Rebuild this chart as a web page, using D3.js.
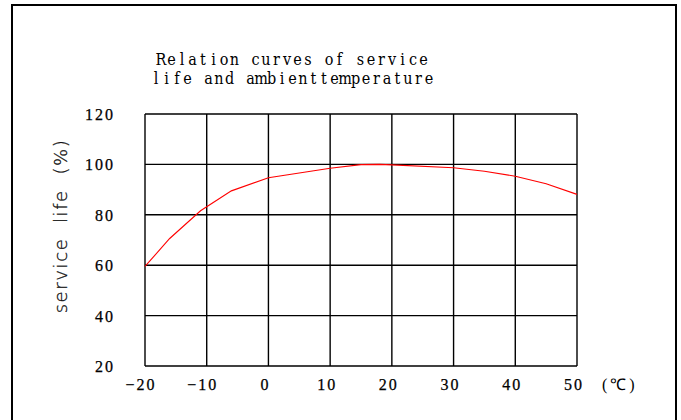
<!DOCTYPE html>
<html>
<head>
<meta charset="utf-8">
<script src="https://cdn.jsdelivr.net/npm/d3@7"></script>
<style>
  html, body { margin: 0; padding: 0; background: #fff; }
  svg { display: block; }
</style>
</head>
<body>
<div id="chart"></div>
<script>
// service life (%) vs ambient temperature (C)
const temps = [-20, -16, -11, -6, 0, 10, 15, 18, 20, 30, 35, 40, 45, 50];
const life  = [59.5, 70.6, 81.6, 89.5, 94.7, 98.5, 99.9, 100, 99.8, 98.7, 97.3, 95.3, 92.3, 88.1];
const xTicks = [-20, -10, 0, 10, 20, 30, 40, 50];
const yTicks = [20, 40, 60, 80, 100, 120];
const titleLines = ['Relation curves of service', 'life and ambienttemperature'];

const width = 681, height = 420;
const margin = {left: 145, right: 104, top: 114, bottom: 54};

const svg = d3.select('#chart').append('svg')
    .attr('width', width)
    .attr('height', height);

// outer frame, open at the bottom
svg.append('path')
    .attr('d', 'M12,420 V5 H676 V420')
    .attr('fill', 'none')
    .attr('stroke', '#000')
    .attr('stroke-width', 2);

const x = d3.scaleLinear()
    .domain([-20, 50])
    .range([margin.left, width - margin.right]);

const y = d3.scaleLinear()
    .domain([20, 120])
    .range([height - margin.bottom, margin.top]);

// grid
svg.append('g')
  .selectAll('line')
  .data(xTicks)
  .enter().append('line')
    .attr('x1', d => x(d)).attr('x2', d => x(d))
    .attr('y1', y(20)).attr('y2', y(120))
    .attr('stroke', '#000')
    .attr('stroke-width', 1.4);

svg.append('g')
  .selectAll('line')
  .data(yTicks)
  .enter().append('line')
    .attr('x1', x(-20)).attr('x2', x(50))
    .attr('y1', d => y(d)).attr('y2', d => y(d))
    .attr('stroke', '#000')
    .attr('stroke-width', 1.4);

// tick labels
function tickStyle(sel) {
  sel.style('font-family', '"Liberation Serif", serif')
     .style('font-size', '16px')
     .style('letter-spacing', '2px')
     .attr('fill', '#000')
     .attr('stroke', '#000')
     .attr('stroke-width', 0.25);
}

svg.append('g')
  .selectAll('text')
  .data(yTicks)
  .enter().append('text')
    .attr('x', 115)
    .attr('y', d => y(d) + 6)
    .attr('text-anchor', 'end')
    .call(tickStyle)
    .text(d => d);

svg.append('g')
  .selectAll('text')
  .data(xTicks)
  .enter().append('text')
    .attr('x', d => x(d) - 3 + (d < 0 ? -1 : 0))
    .attr('y', 390)
    .attr('text-anchor', 'middle')
    .call(tickStyle)
    .text(d => d < 0 ? '\u2212' + (-d) : d);

svg.append('text')
    .attr('x', 602)
    .attr('y', 390)
    .style('font-family', '"Liberation Serif", serif')
    .style('font-size', '16px')
    .style('letter-spacing', '3px')
    .text('(\u2103)');

// title: serif glyphs on a fixed 10.5px pitch
const pitch = 10.5;
svg.append('g')
  .selectAll('text')
  .data(titleLines)
  .enter().append('text')
    .attr('x', (d, i) => d.split('').map((c, k) => (i === 0 ? 161 : 156) + k * pitch).join(' '))
    .attr('y', (d, i) => 65 + i * 19)
    .attr('text-anchor', 'middle')
    .attr('xml:space', 'preserve')
    .style('font-family', '"DejaVu Serif", serif')
    .style('font-stretch', 'condensed')
    .style('font-size', '16px')
    .text(d => d);

// y axis label
svg.append('text')
    .attr('transform', 'translate(67,226) rotate(-90)')
    .attr('text-anchor', 'middle')
    .attr('xml:space', 'preserve')
    .style('font-family', '"DejaVu Sans", sans-serif')
    .style('font-size', '18px')
    .style('font-weight', '200')
    .style('letter-spacing', '1.6px')
    .attr('fill', '#000')
    .attr('stroke', '#222')
    .attr('stroke-width', 0.3)
    .text('service  life  (%)');

// curve
const line = d3.line()
    .x((d, i) => x(temps[i]))
    .y(d => y(d));

svg.append('path')
    .datum(life)
    .attr('d', line)
    .attr('fill', 'none')
    .attr('stroke', '#ff0000')
    .attr('stroke-width', 1.1);
</script>
</body>
</html>
